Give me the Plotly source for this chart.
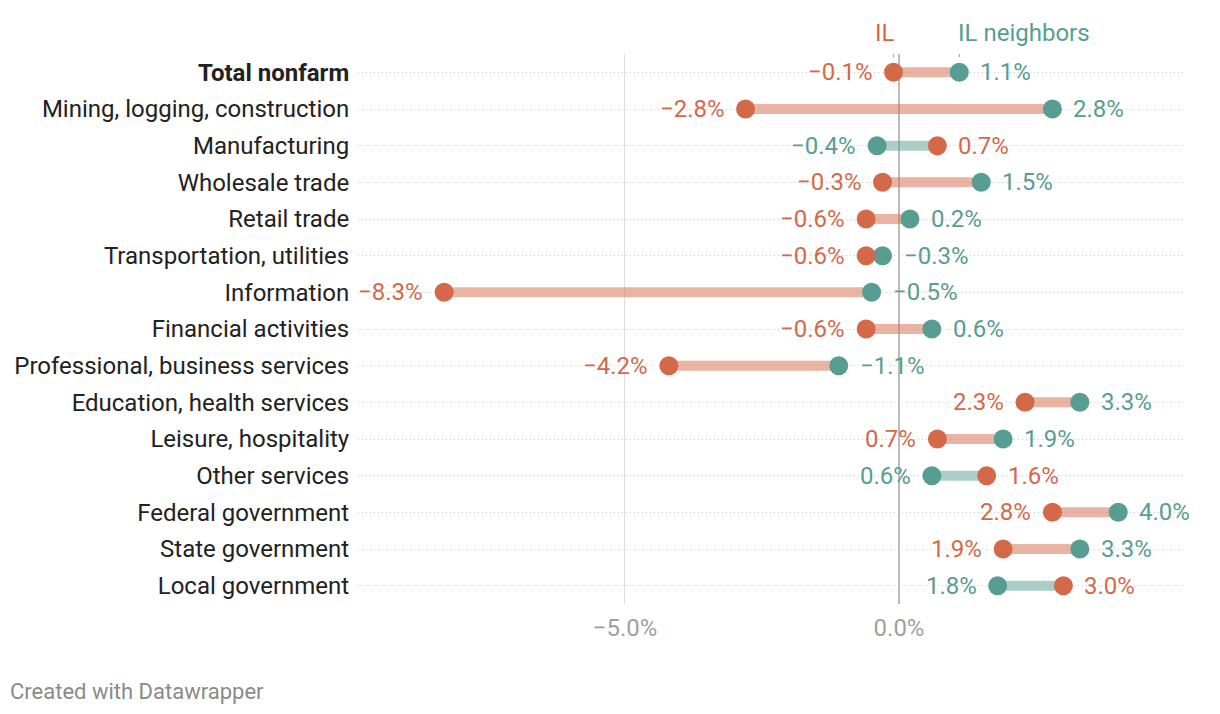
import plotly.graph_objects as go

categories = [
    "Total nonfarm", "Mining, logging, construction", "Manufacturing",
    "Wholesale trade", "Retail trade", "Transportation, utilities",
    "Information", "Financial activities", "Professional, business services",
    "Education, health services", "Leisure, hospitality", "Other services",
    "Federal government", "State government", "Local government",
]
il = [-0.1, -2.8, 0.7, -0.3, -0.6, -0.6, -8.3, -0.6, -4.2, 2.3, 0.7, 1.6, 2.8, 1.9, 3.0]
neighbors = [1.1, 2.8, -0.4, 1.5, 0.2, -0.3, -0.5, 0.6, -1.1, 3.3, 1.9, 0.6, 4.0, 3.3, 1.8]
x_ticks = [-5.0, 0.0]
x_tick_labels = ["\u22125.0%", "0.0%"]

ORANGE = "#d4694a"
TEAL = "#579d92"
ORANGE_BAR = "rgba(212,105,74,0.5)"
TEAL_BAR = "rgba(87,157,146,0.5)"
FONT = "Roboto"
FS = 24

n = len(categories)
rows = list(range(n))


def fmt(v):
    s = f"{abs(v):.1f}%"
    return ("\u2212" + s) if v < 0 else s


fig = go.Figure()

# bars: colored by the left-hand dot
ob_x, ob_y, tb_x, tb_y = [], [], [], []
for i in rows:
    if il[i] <= neighbors[i]:
        ob_x += [il[i], neighbors[i], None]
        ob_y += [i, i, None]
    else:
        tb_x += [neighbors[i], il[i], None]
        tb_y += [i, i, None]

fig.add_trace(go.Scatter(x=ob_x, y=ob_y, mode="lines",
                         line=dict(color=ORANGE_BAR, width=10),
                         hoverinfo="skip", showlegend=False))
fig.add_trace(go.Scatter(x=tb_x, y=tb_y, mode="lines",
                         line=dict(color=TEAL_BAR, width=10),
                         hoverinfo="skip", showlegend=False))

fig.add_trace(go.Scatter(x=neighbors, y=rows, mode="markers", name="IL neighbors",
                         marker=dict(color=TEAL, size=19, line=dict(width=0)),
                         showlegend=False))
fig.add_trace(go.Scatter(x=il, y=rows, mode="markers", name="IL",
                         marker=dict(color=ORANGE, size=19, line=dict(width=0)),
                         showlegend=False))

# value labels
for i in rows:
    a, b = il[i], neighbors[i]
    il_left = a <= b
    fig.add_annotation(x=a, y=i, text=fmt(a), showarrow=False,
                       xanchor="right" if il_left else "left",
                       xshift=-19 if il_left else 19,
                       font=dict(family=FONT, size=FS, color=ORANGE))
    fig.add_annotation(x=b, y=i, text=fmt(b), showarrow=False,
                       xanchor="left" if il_left else "right",
                       xshift=19 if il_left else -19,
                       font=dict(family=FONT, size=FS, color=TEAL))

# series key above first row
fig.add_annotation(x=il[0], y=0, text="IL", showarrow=False, xanchor="right",
                   yanchor="bottom", yshift=23, xshift=3,
                   font=dict(family=FONT, size=FS, color=ORANGE))
fig.add_annotation(x=neighbors[0], y=0, text="IL neighbors", showarrow=False,
                   xanchor="left", yanchor="bottom", yshift=23, xshift=-3,
                   font=dict(family=FONT, size=FS, color=TEAL))
for xv in (il[0], neighbors[0]):
    fig.add_shape(type="line", x0=xv, x1=xv, y0=-0.68, y1=-0.41,
                  line=dict(color="#aaaaaa", width=1.2), layer="above")

fig.add_annotation(x=0, y=0, xref="paper", yref="paper", xanchor="left",
                   yanchor="bottom", text="Created with Datawrapper",
                   showarrow=False, xshift=-350, yshift=-102,
                   font=dict(family=FONT, size=22, color="#8a8a8a"))

ticktext = [("<b>" + c + "</b>") if i == 0 else c for i, c in enumerate(categories)]

fig.update_layout(
    width=1220, height=714,
    margin=dict(l=358, r=34, t=54, b=110),
    paper_bgcolor="white", plot_bgcolor="white",
    font=dict(family=FONT, size=FS, color="#222222"),
    xaxis=dict(range=[-9.872, 5.237], tickvals=x_ticks, ticktext=x_tick_labels,
               showgrid=True, gridcolor="#dddddd", gridwidth=1,
               zeroline=True, zerolinecolor="#bbbbbb", zerolinewidth=1.5,
               ticks="outside", ticklen=2, tickcolor="rgba(0,0,0,0)",
               tickfont=dict(family=FONT, size=FS, color="#a0a0a0"),
               showline=False, fixedrange=True),
    yaxis=dict(range=[n - 0.5, -0.5], tickvals=rows, ticktext=ticktext,
               showgrid=True, gridcolor="#cccccc", griddash="1px,3px", gridwidth=1,
               zeroline=False, ticks="outside", ticklen=3,
               tickcolor="rgba(0,0,0,0)",
               tickfont=dict(family=FONT, size=FS, color="#222222"),
               showline=False, fixedrange=True),
)

fig.write_html("out.html")
